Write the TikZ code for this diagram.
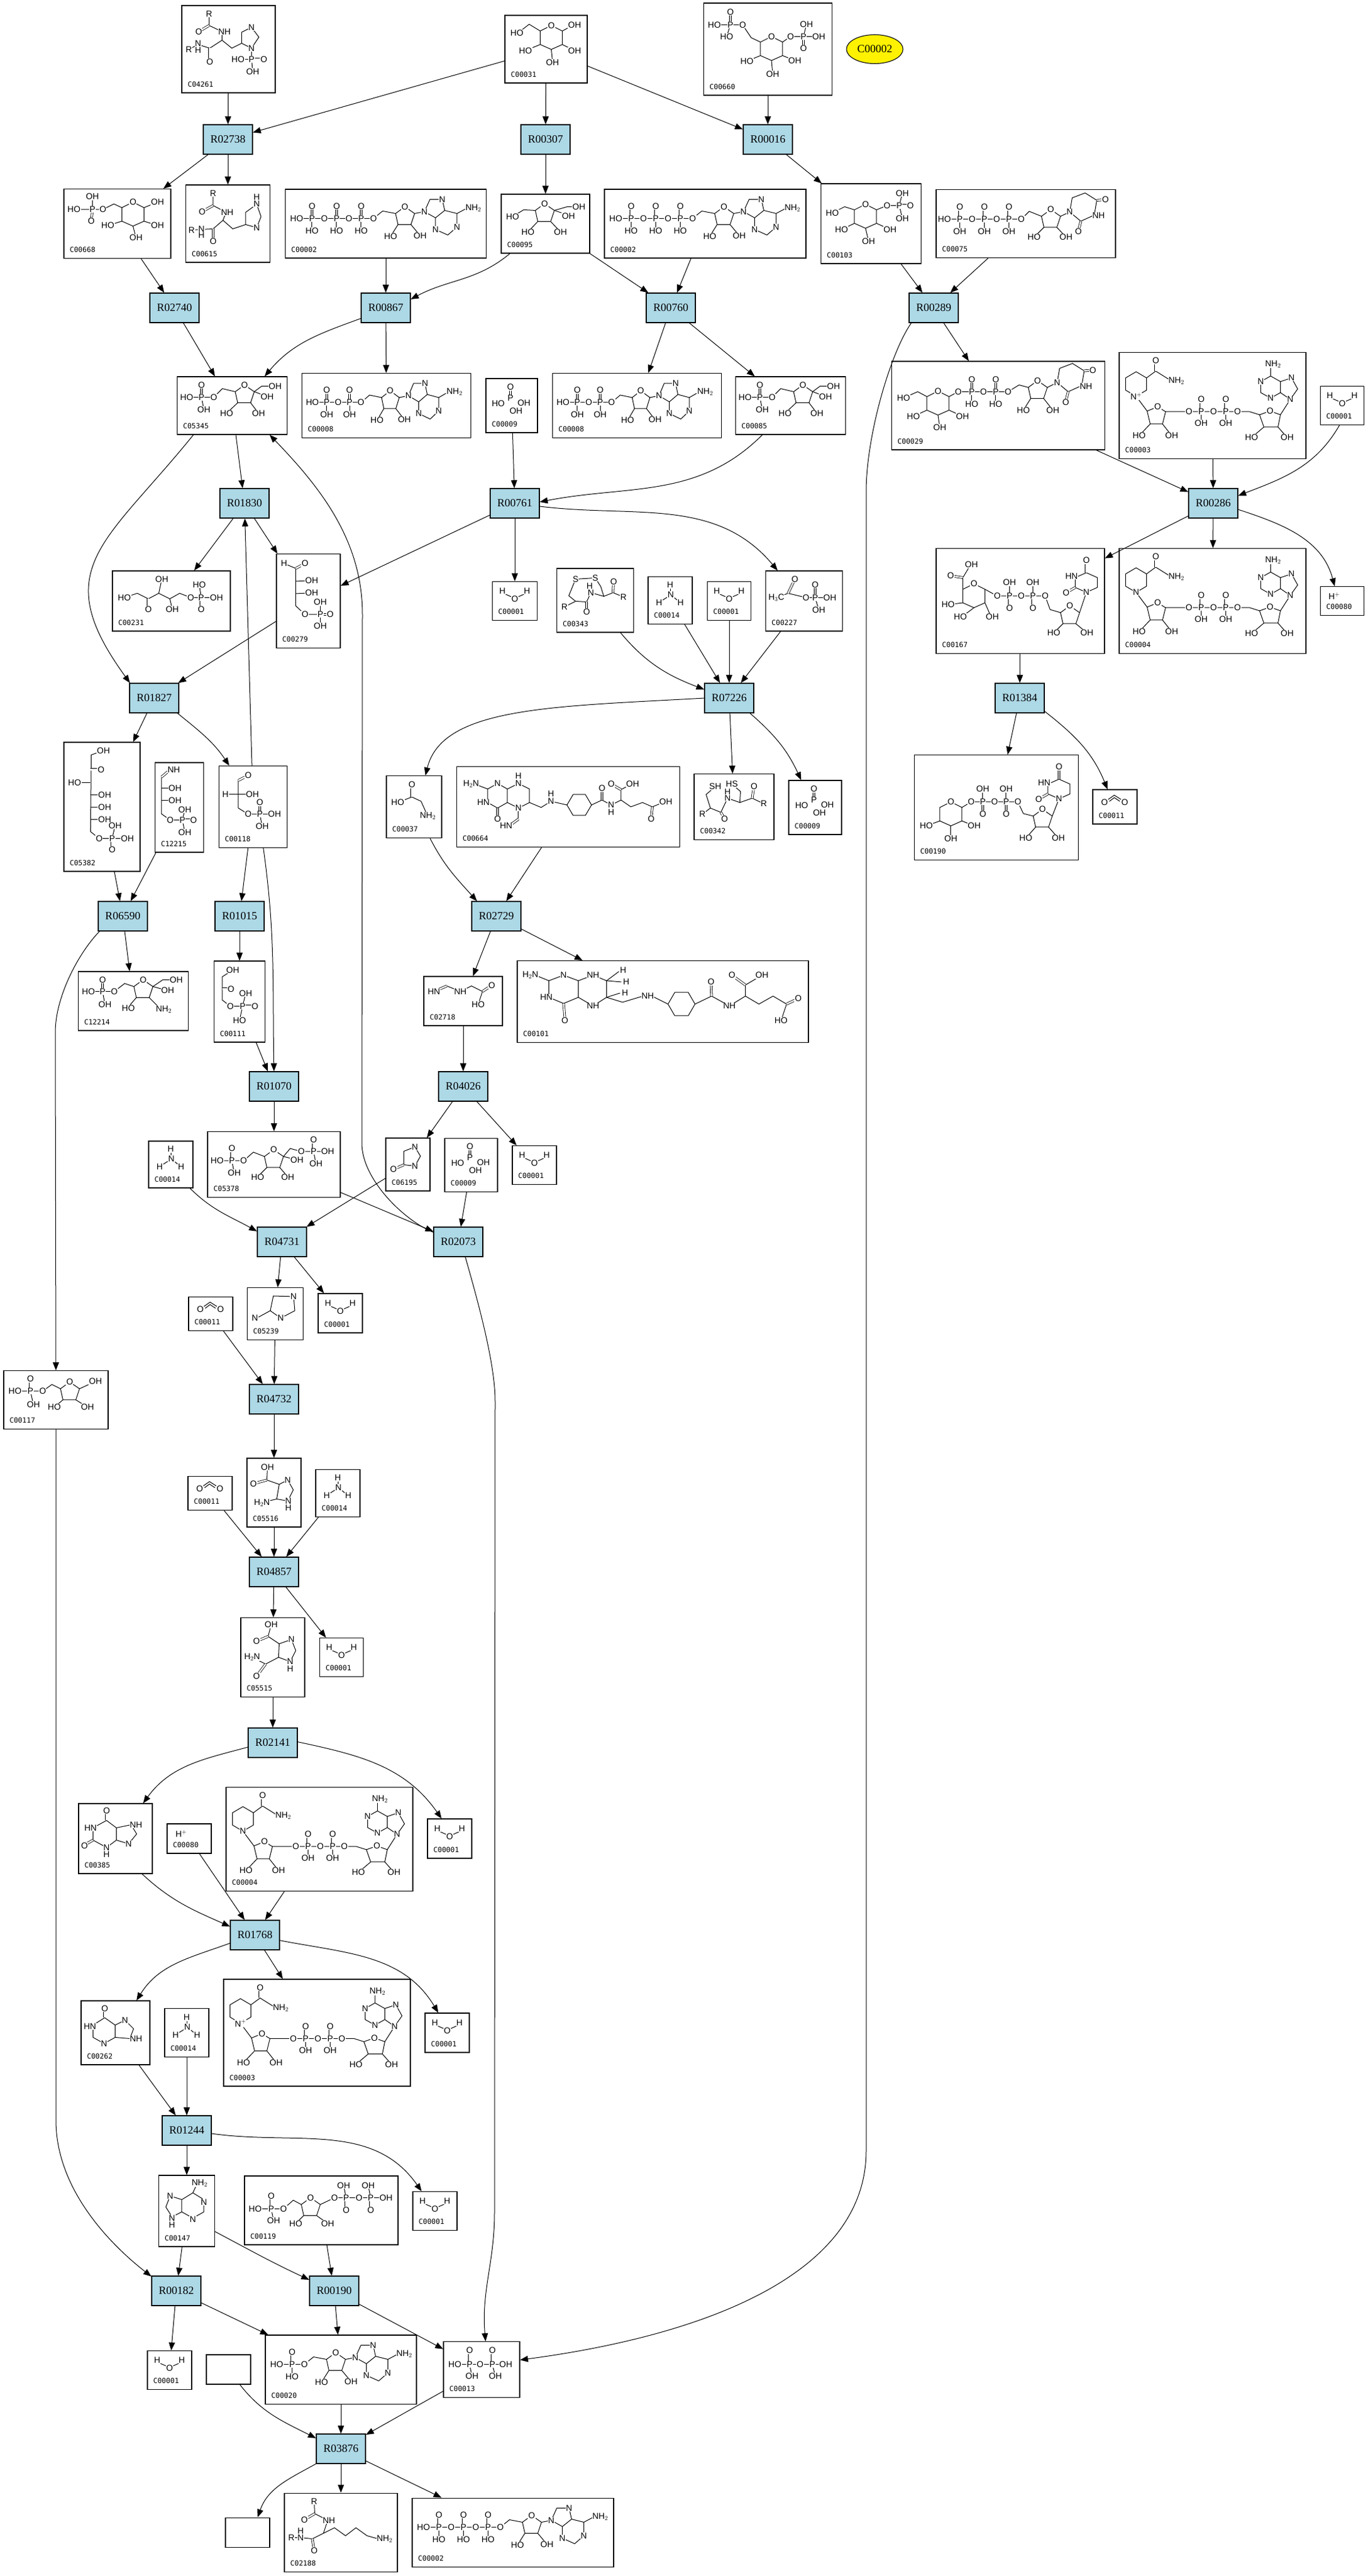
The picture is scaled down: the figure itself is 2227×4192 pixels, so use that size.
\documentclass[tikz,border=0pt]{standalone}
\usepackage{fontspec}
\setmainfont{Liberation Serif}
\newfontfamily\idfam{Liberation Sans}
\newfontfamily\idmono{DejaVu Sans Mono}
\usetikzlibrary{arrows.meta,shapes.geometric}
\definecolor{lblue}{HTML}{ADD8E6}
\newcommand\rxfont{\fontsize{18}{20}\selectfont}
\newcommand\cidfont{\idmono\fontsize{11.5}{13}\selectfont}
\newcommand\atomfont{\idfam\fontsize{14}{15}\selectfont}
\tikzset{
  rx/.style={draw=black,line width=1.2pt,fill=lblue,minimum width=80pt,minimum height=48pt,inner sep=0pt,font=\rxfont},
  cbox/.style={draw=black,line width=1.1pt,inner sep=0pt},
  idl/.style={anchor=south west,inner sep=0pt,font=\cidfont},
  atom/.style={inner sep=0.6pt,fill=white,font=\atomfont},
  bond/.style={line width=1pt},
  dbond/.style={line width=0.8pt,double=white,double distance=2.4pt},
  arr/.style={line width=1pt,-{Triangle[length=13pt,width=10pt]}}
}
\newcommand\cpd[6]{\node[cbox,minimum width=#4pt,minimum height=#5pt] (#1) at (#2,-#3) {};
  \node[idl] at ([shift={(10,10)}]#1.south west) {#6};}
\newcommand\rxn[3]{\node[rx] (#1) at (#2,-#3) {#1};}
\newcommand\bdon[1]{\draw[bond] #1;}
\newcommand\dbdon[1]{\draw[dbond] #1;}
\newcommand\atmon[3]{\node[atom] at (#1,#2) {#3};}
\newcommand\atwon[3]{\node[atom,anchor=west] at (#1,#2) {#3};}
\newcommand\gobA[1]{}
\newcommand\gobC[3]{}
\let\bd\bdon \let\dbd\dbdon \let\atm\atmon \let\atw\atwon
\newcommand\insc[3][]{\begin{scope}[shift={(#2.north west)},yscale=-1,#1]%
  \let\bd\bdon\let\dbd\dbdon\let\atm\gobC\let\atw\gobC #3%
  \let\bd\gobA\let\dbd\gobA\let\atm\atmon\let\atw\atwon #3%
  \end{scope}}
% building blocks (local coordinates, y downwards)
\newcommand\pyr[2]{\bd{(#1-18,#2-11)--(#1,#2-20)--(#1+18,#2-11)--(#1+18,#2+11)--(#1,#2+19)--(#1-18,#2+11)--cycle}\atm{#1}{#2-20}{O}}
\newcommand\fur[2]{\bd{(#1-15,#2-6)--(#1,#2-17)--(#1+16,#2-6)--(#1+10,#2+12)--(#1-11,#2+12)--cycle}\atm{#1}{#2-17}{O}}
\newcommand\pch[4]{%
  \bd{(#1,#2)--({#1+45+40*(#3-1)},#2)}%
  \foreach \i in {1,...,#3}{%
    \pgfmathsetmacro\px{#1+25+40*(\i-1)}%
    \dbd{(\px,#2)--(\px,#2-20)}\bd{(\px,#2)--(\px,#2+20)}%
    \atm{\px}{#2}{P}\atm{\px}{#2-20}{O}\atm{\px}{#2+20}{#4}\atm{\px+20}{#2}{O}}%
  \atm{#1}{#2}{HO}}
\newcommand\adeA[2]{%
  \bd{(#1,#2)--(#1+9,#2-20)--(#1+29,#2-20)--(#1+33,#2-2)--(#1+18,#2+10)--cycle}%
  \bd{(#1+18,#2+10)--(#1+18,#2+29)--(#1+38,#2+38)--(#1+53,#2+25)--(#1+53,#2+3)--(#1+33,#2-2)}%
  \bd{(#1+53,#2+3)--(#1+68,#2-5)}%
  \atm{#1}{#2}{N}\atm{#1+29}{#2-20}{N}\atm{#1+18}{#2+29}{N}\atm{#1+53}{#2+25}{N}%
  \atw{#1+66}{#2-6}{NH$_2$}}
\newcommand\adeB[2]{%
  \bd{(#1-32,#2-38)--(#1-16,#2-29)--(#1-16,#2-11)--(#1-32,#2-2)--(#1-48,#2-11)--(#1-48,#2-29)--cycle}%
  \bd{(#1-16,#2-29)--(#1+2,#2-35)--(#1+12,#2-17)--(#1,#2)--(#1-16,#2-11)}%
  \bd{(#1-32,#2-38)--(#1-32,#2-52)}%
  \atm{#1}{#2}{N}\atm{#1-32}{#2-2}{N}\atm{#1-48}{#2-29}{N}\atm{#1+2}{#2-35}{N}\atm{#1-28}{#2-57}{NH$_2$}}
\newcommand\uraA[2]{%
  \bd{(#1,#2)--(#1+4,#2-23)--(#1+25,#2-31)--(#1+44,#2-19)--(#1+40,#2+5)--(#1+18,#2+15)--cycle}%
  \dbd{(#1+44,#2-19)--(#1+57,#2-20)}\dbd{(#1+18,#2+15)--(#1+14,#2+31)}%
  \atm{#1}{#2}{N}\atm{#1+47}{#2+6}{NH}\atm{#1+58}{#2-20}{O}\atm{#1+14}{#2+32}{O}}
\newcommand\uraB[2]{%
  \bd{(#1,#2)--(#1+18,#2-8)--(#1+18,#2-24)--(#1,#2-32)--(#1-18,#2-24)--(#1-18,#2-8)--cycle}%
  \dbd{(#1,#2-32)--(#1,#2-50)}\dbd{(#1-18,#2-8)--(#1-32,#2)}%
  \atm{#1}{#2}{N}\atm{#1-24}{#2-26}{HN}\atm{#1}{#2-52}{O}\atm{#1-33}{#2+1}{O}}
\newcommand\ados[2]{%
  \bd{(#1,#2)--(#1+15,#2-12)--(#1+36,#2-8)}\fur{#1+51}{#2-2}%
  \bd{(#1+40,#2+10)--(#1+28,#2+29)}\bd{(#1+61,#2+10)--(#1+76,#2+28)}%
  \bd{(#1+67,#2-8)--(#1+83,#2-11)}\adeA{#1+83}{#2-11}%
  \atm{#1+28}{#2+29}{HO}\atm{#1+76}{#2+28}{OH}}
\newcommand\nadin[1]{%
  \bd{(28,32)--(45,42)--(45,62)--(28,72)--(11,62)--(11,42)--cycle}%
  \bd{(45,42)--(60,31)--(84,46)}\dbd{(60,31)--(60,14)}\bd{(28,72)--(46,96)}%
  \bd{(46,96)--(63,89)--(76,97)--(71,117)--(51,117)--cycle}%
  \bd{(51,117)--(33,136)}\bd{(71,117)--(86,136)}%
  \bd{(76,97)--(213,97)--(229,102)}%
  \dbd{(134,97)--(134,77)}\bd{(134,97)--(134,116)}\dbd{(174,97)--(174,77)}\bd{(174,97)--(174,116)}%
  \bd{(229,102)--(246,96)--(263,102)--(259,122)--(236,122)--cycle}%
  \bd{(236,122)--(216,139)}\bd{(259,122)--(274,139)}\bd{(263,102)--(279,77)}%
  \adeB{279}{77}%
  \atm{60}{14}{O}\atw{80}{47}{NH$_2$}\atm{28}{72}{#1}\atm{63}{89}{O}%
  \atm{33}{136}{HO}\atm{86}{136}{OH}\atm{114}{97}{O}\atm{134}{97}{P}\atm{134}{77}{O}\atm{134}{116}{OH}%
  \atm{154}{97}{O}\atm{174}{97}{P}\atm{174}{77}{O}\atm{174}{116}{OH}\atm{193}{97}{O}\atm{246}{96}{O}%
  \atm{216}{139}{HO}\atm{274}{139}{OH}}
\newcommand\fsixp{% fructose 6-phosphate
  \bd{(16,34)--(60,34)--(74,20)--(95,25)}\dbd{(40,34)--(40,14)}\bd{(40,34)--(44,54)}\fur{110}{31}%
  \bd{(99,43)--(81,60)}\bd{(120,43)--(133,60)}\bd{(126,25)--(145,32)}\bd{(126,25)--(138,16)--(160,16)}%
  \atm{40}{14}{O}\atm{40}{34}{P}\atm{16}{34}{HO}\atm{60}{34}{O}\atm{44}{54}{OH}%
  \atm{81}{60}{HO}\atm{133}{60}{OH}\atm{147}{33}{OH}\atm{160}{16}{OH}}
\newcommand\waterin[1]{%
  \draw[bond] ([shift={(-15,11)}]#1.center) -- ([shift={(-6,7)}]#1.center);
  \draw[bond] ([shift={(6,7)}]#1.center) -- ([shift={(15,11)}]#1.center);
  \node[atom] at ([shift={(-20,16)}]#1.center) {H};
  \node[atom] at ([shift={(0,3)}]#1.center) {O};
  \node[atom] at ([shift={(20,16)}]#1.center) {H};}
\newcommand\nhin[1]{%
  \draw[bond] ([shift={(0,19)}]#1.center) -- ([shift={(0,15)}]#1.center);
  \draw[bond] ([shift={(-5,5)}]#1.center) -- ([shift={(-13,0)}]#1.center);
  \draw[bond] ([shift={(6,5)}]#1.center) -- ([shift={(12,0)}]#1.center);
  \node[atom] at ([shift={(0,25)}]#1.center) {H};
  \node[atom] at ([shift={(1,9)}]#1.center) {N};
  \node[atom] at ([shift={(-18,-4)}]#1.center) {H};
  \node[atom] at ([shift={(17,-4)}]#1.center) {H};}
\newcommand\coin[1]{%
  \draw[bond] ([shift={(-11,12)}]#1.center) -- ([shift={(-1,19)}]#1.center) -- ([shift={(10,12)}]#1.center);
  \draw[bond] ([shift={(-9,9)}]#1.center) -- ([shift={(-1,15)}]#1.center) -- ([shift={(8,9)}]#1.center);
  \node[atom] at ([shift={(-17,7)}]#1.center) {O};
  \node[atom] at ([shift={(16,7)}]#1.center) {O};}
\newcommand\phin[1]{%
  \draw[dbond] ([shift={(-2,16)}]#1.center) -- ([shift={(-2,25)}]#1.center);
  \node[atom] at ([shift={(-2,30)}]#1.center) {O};
  \node[atom] at ([shift={(-2,12)}]#1.center) {P};
  \node[atom] at ([shift={(-22,3)}]#1.center) {HO};
  \node[atom] at ([shift={(20,4)}]#1.center) {OH};
  \node[atom] at ([shift={(7,-9)}]#1.center) {OH};}
\newcommand\hpin[1]{%
  \node[atom] at ([shift={(-13,8)}]#1.center) {H$^{+}$};}
\begin{document}
\begin{tikzpicture}[x=1pt,y=1pt]
\useasboundingbox (0,0) rectangle (2227,-4192);
\fill[white] (0,0) rectangle (2227,-4192);
% ---------- compounds ----------
\cpd{cA}{372}{80}{152}{142}{C04261}
\cpd{cB}{889}{80}{134}{110}{C00031}
\cpd{cC}{1250}{80}{209}{150}{C00660}
\node[ellipse,draw=black,line width=1.1pt,fill=yellow,minimum width=92pt,minimum height=47pt,inner sep=0pt,font=\rxfont] (Y) at (1424,-80) {C00002};
\cpd{cD}{191}{364}{174}{113}{C00668}
\cpd{cE}{371}{364}{137}{126}{C00615}
\cpd{cF}{628}{364}{327}{112}{C00002}
\cpd{cG}{888}{364}{144}{96}{C00095}
\cpd{cH}{1148}{364}{328}{112}{C00002}
\cpd{cI}{1418}{364}{163}{130}{C00103}
\cpd{cJ}{1670}{364}{292}{111}{C00075}
\cpd{cK}{378}{660}{179}{94}{C05345}
\cpd{cL}{629}{660}{275}{105}{C00008}
\cpd{cM}{833}{660}{84}{88}{C00009}
\cpd{cN}{1037}{660}{275}{105}{C00008}
\cpd{cO}{1287}{660}{179}{94}{C00085}
\cpd{cP}{1625}{660}{347}{144}{C00029}
\cpd{cQ}{1974}{660}{304}{173}{C00003}
\cpd{cR}{2185}{660}{71}{63}{C00001}
\cpd{cS}{279}{978}{192}{98}{C00231}
\cpd{cT}{502}{978}{104}{153}{C00279}
\cpd{cU}{838}{978}{73}{63}{C00001}
\cpd{cV}{969}{977}{125}{104}{C00343}
\cpd{cW}{1091}{977}{72}{77}{C00014}
\cpd{cX}{1187}{978}{71}{63}{C00001}
\cpd{cY}{1309}{978}{125}{98}{C00227}
\cpd{cZ}{1661}{978}{274}{171}{C00167}
\cpd{cAA}{1974}{978}{304}{171}{C00004}
\cpd{cAB}{2185}{978}{71}{47}{C00080}
\cpd{cAC}{166}{1313}{124}{210}{C05382}
\cpd{cAD}{292}{1314}{79}{146}{C12215}
\cpd{cAE}{412}{1313}{111}{133}{C00118}
\cpd{cAF}{674}{1313}{90}{101}{C00037}
\cpd{cAG}{925}{1313}{363}{131}{C00664}
\cpd{cAH}{1195}{1313}{130}{107}{C00342}
\cpd{cAI}{1327}{1314}{86}{88}{C00009}
\cpd{cAJ}{1622}{1314}{267}{171}{C00190}
\cpd{cAK}{1815}{1313}{72}{56}{C00011}
\cpd{cAL}{217}{1629}{179}{96}{C12214}
\cpd{cAM}{390}{1630}{83}{132}{C00111}
\cpd{cAN}{754}{1629}{128}{80}{C02718}
\cpd{cAO}{1079}{1630}{474}{133}{C00101}
\cpd{cAP}{278}{1895}{72}{76}{C00014}
\cpd{cAQ}{446}{1895}{216}{107}{C05378}
\cpd{cAR}{664}{1895}{72}{86}{C06195}
\cpd{cAS}{767}{1896}{86}{87}{C00009}
\cpd{cAT}{870}{1896}{72}{63}{C00001}
\cpd{cAU}{343}{2138}{72}{55}{C00011}
\cpd{cAV}{448}{2138}{91}{85}{C05239}
\cpd{cAW}{554}{2137}{72}{64}{C00001}
\cpd{cAX}{91}{2278}{170}{95}{C00117}
\cpd{cAY}{342}{2430}{72}{55}{C00011}
\cpd{cAZ}{446}{2429}{88}{112}{C05516}
\cpd{cBA}{550}{2430}{72}{77}{C00014}
\cpd{cBB}{444}{2697}{104}{129}{C05515}
\cpd{cBC}{556}{2697}{71}{63}{C00001}
\cpd{cBD}{188}{2992}{120}{114}{C00385}
\cpd{cBE}{308}{2992}{72}{48}{C00080}
\cpd{cBF}{520}{2993}{304}{169}{C00004}
\cpd{cBG}{732}{2992}{72}{64}{C00001}
\cpd{cBH}{188}{3308}{112}{104}{C00262}
\cpd{cBI}{304}{3308}{72}{79}{C00014}
\cpd{cBJ}{516}{3308}{304}{174}{C00003}
\cpd{cBK}{728}{3308}{72}{64}{C00001}
\cpd{cBL}{304}{3598}{91}{116}{C00147}
\cpd{cBM}{523}{3597}{250}{112}{C00119}
\cpd{cBN}{708}{3598}{72}{63}{C00001}
\cpd{cBO}{276}{3857}{72}{63}{C00001}
\node[cbox,minimum width=72pt,minimum height=48pt] (eA) at (372,-3856) {};
\cpd{cBQ}{555}{3856}{246}{112}{C00020}
\cpd{cBR}{784}{3856}{124}{91}{C00013}
\node[cbox,minimum width=72pt,minimum height=48pt] (eB) at (403,-4121) {};
\cpd{cBT}{555}{4121}{184}{128}{C02188}
\cpd{cBU}{835}{4121}{328}{112}{C00002}
% ---------- simple structures ----------
\waterin{cR}\waterin{cU}\waterin{cX}\waterin{cAT}\waterin{cAW}\waterin{cBC}
\waterin{cBG}\waterin{cBK}\waterin{cBN}\waterin{cBO}
\nhin{cW}\nhin{cAP}\nhin{cBA}\nhin{cBI}
\coin{cAK}\coin{cAU}\coin{cAY}
\phin{cM}\phin{cAI}\phin{cAS}
\hpin{cAB}\hpin{cBE}
% ---------- nucleotides ----------
\insc{cF}{\pch{19}{48}{3}{HO}\ados{144}{48}}
\insc{cH}{\pch{19}{48}{3}{HO}\ados{144}{48}}
\insc{cBU}{\pch{19}{48}{3}{HO}\ados{144}{48}}
\insc[xscale=0.93]{cL}{\pch{19}{48}{2}{OH}\ados{104}{48}}
\insc[xscale=0.93]{cN}{\pch{19}{48}{2}{OH}\ados{104}{48}}
\insc{cBQ}{\pch{19}{48}{1}{HO}\ados{64}{48}}
\insc{cQ}{\nadin{N$^{+}$}}
\insc{cBJ}{\nadin{N$^{+}$}}
\insc{cAA}{\nadin{N}}
\insc{cBF}{\nadin{N}}
\insc{cJ}{\pch{14}{49}{3}{OH}\bd{(139,49)--(152,36)--(172,44)}\fur{187}{50}%
  \bd{(176,62)--(160,78)}\bd{(197,62)--(212,78)}\bd{(203,44)--(218,37)}\uraA{218}{37}%
  \atm{160}{78}{HO}\atm{212}{78}{OH}}
\insc{cP}{\pyr{76}{69}\bd{(58,58)--(43,50)--(20,60)}\bd{(58,80)--(36,90)}\bd{(76,88)--(79,108)}\bd{(94,80)--(116,90)}%
  \bd{(94,58)--(109,50)--(190,50)--(208,39)--(223,43)}%
  \dbd{(131,50)--(131,30)}\bd{(131,50)--(131,70)}\dbd{(170,50)--(170,30)}\bd{(170,50)--(170,70)}%
  \fur{238}{49}\bd{(227,61)--(215,80)}\bd{(248,61)--(263,80)}\bd{(254,43)--(270,35)}\uraA{270}{35}%
  \atm{20}{60}{HO}\atm{36}{90}{HO}\atm{79}{108}{OH}\atm{116}{90}{OH}\atm{109}{50}{O}\atm{131}{50}{P}\atm{131}{30}{O}%
  \atm{131}{70}{HO}\atm{150}{50}{O}\atm{170}{50}{P}\atm{170}{30}{O}\atm{170}{70}{HO}\atm{190}{50}{O}%
  \atm{215}{80}{HO}\atm{263}{80}{OH}}
\insc{cZ}{\pyr{62}{78}\bd{(44,67)--(44,48)--(56,28)}\dbd{(44,48)--(24,45)}\bd{(44,89)--(20,92)}\bd{(62,97)--(42,112)}\bd{(80,89)--(90,112)}%
  \bd{(80,67)--(100,78)--(178,78)--(186,100)--(203,105)}%
  \bd{(120,78)--(120,56)}\dbd{(120,78)--(120,98)}\bd{(158,78)--(158,56)}\dbd{(158,78)--(158,98)}%
  \fur{218}{111}\bd{(207,123)--(192,138)}\bd{(228,123)--(246,138)}\bd{(234,105)--(245,72)}\uraB{245}{72}%
  \atm{24}{45}{O}\atm{58}{27}{OH}\atm{20}{92}{HO}\atm{40}{112}{HO}\atm{92}{112}{OH}\atm{100}{78}{O}\atm{120}{78}{P}%
  \atm{120}{56}{OH}\atm{120}{98}{O}\atm{139}{78}{O}\atm{158}{78}{P}\atm{158}{56}{OH}\atm{158}{98}{O}\atm{178}{78}{O}%
  \atm{192}{138}{HO}\atm{246}{138}{OH}}
\insc{cAJ}{\pyr{60}{97}\bd{(42,108)--(20,116)}\bd{(60,116)--(60,137)}\bd{(78,108)--(98,116)}%
  \bd{(78,86)--(93,77)--(169,77)--(178,96)--(194,100)}%
  \bd{(112,77)--(112,56)}\dbd{(112,77)--(112,97)}\bd{(150,77)--(150,56)}\dbd{(150,77)--(150,97)}%
  \fur{209}{106}\bd{(198,118)--(182,136)}\bd{(219,118)--(235,136)}\bd{(225,100)--(236,72)}\uraB{236}{72}%
  \atm{20}{116}{HO}\atm{60}{137}{OH}\atm{98}{116}{OH}\atm{93}{77}{O}\atm{112}{77}{P}\atm{112}{56}{OH}\atm{112}{97}{O}%
  \atm{131}{77}{O}\atm{150}{77}{P}\atm{150}{56}{OH}\atm{150}{97}{O}\atm{169}{77}{O}\atm{182}{136}{HO}\atm{235}{136}{OH}}
% ---------- sugars ----------
\insc{cB}{\pyr{76}{37}\bd{(58,26)--(40,15)--(22,29)}\bd{(94,26)--(112,16)}\bd{(58,48)--(36,57)}\bd{(94,48)--(112,57)}\bd{(76,56)--(78,75)}%
  \atm{20}{29}{HO}\atm{114}{16}{OH}\atm{34}{58}{HO}\atm{114}{58}{OH}\atm{78}{77}{OH}}
\insc{cC}{\bd{(18,36)--(64,36)--(78,57)--(93,64)}\dbd{(44,36)--(44,15)}\bd{(44,36)--(38,55)}\pyr{111}{75}%
  \bd{(129,64)--(142,55)--(163,55)--(188,55)}\bd{(163,55)--(168,35)}\dbd{(163,55)--(163,74)}%
  \bd{(93,86)--(71,95)}\bd{(129,86)--(149,94)}\bd{(111,94)--(113,116)}%
  \atm{44}{15}{O}\atm{44}{36}{P}\atm{18}{36}{HO}\atm{64}{36}{O}\atm{38}{55}{HO}\atm{142}{55}{O}\atm{163}{55}{P}%
  \atm{168}{35}{OH}\atm{188}{55}{OH}\atm{163}{74}{O}\atm{71}{95}{HO}\atm{149}{94}{OH}\atm{113}{116}{OH}}
\insc{cD}{\bd{(17,34)--(64,34)--(82,25)--(95,31)}\bd{(47,34)--(47,13)}\dbd{(47,34)--(45,53)}\pyr{113}{42}%
  \bd{(131,31)--(153,22)}\bd{(131,53)--(153,60)}\bd{(113,61)--(118,80)}\bd{(95,53)--(72,60)}%
  \atm{47}{13}{OH}\atm{17}{34}{HO}\atm{47}{34}{P}\atm{45}{53}{O}\atm{64}{34}{O}\atm{153}{22}{OH}\atm{153}{60}{OH}%
  \atm{118}{80}{OH}\atm{72}{60}{HO}}
\insc{cG}{\fur{71}{33}\bd{(56,27)--(37,26)--(19,37)}\bd{(60,45)--(44,62)}\bd{(81,45)--(97,62)}\bd{(87,27)--(108,34)}\bd{(87,27)--(108,21)--(125,21)}%
  \atm{19}{37}{HO}\atm{44}{62}{HO}\atm{97}{62}{OH}\atm{110}{36}{OH}\atm{127}{21}{OH}}
\insc{cI}{\pyr{73}{54}\bd{(55,43)--(39,38)--(19,48)}\bd{(55,65)--(34,75)}\bd{(91,65)--(113,75)}\bd{(73,73)--(78,94)}%
  \bd{(91,43)--(108,36)--(128,36)}\dbd{(128,36)--(146,36)}\bd{(128,36)--(133,16)}\bd{(128,36)--(133,57)}%
  \atm{19}{48}{HO}\atm{34}{75}{HO}\atm{113}{75}{OH}\atm{78}{94}{OH}\atm{108}{36}{O}\atm{128}{36}{P}\atm{133}{16}{OH}%
  \atm{146}{36}{O}\atm{133}{57}{OH}}
\insc{cK}{\fsixp}
\insc{cO}{\fsixp}
\insc{cAL}{\bd{(17,33)--(59,33)--(76,20)--(91,25)}\dbd{(40,33)--(40,14)}\bd{(40,33)--(44,54)}\fur{106}{31}%
  \bd{(95,43)--(82,58)}\bd{(116,43)--(133,60)}\bd{(122,25)--(144,31)}\bd{(122,25)--(138,14)--(160,14)}%
  \atm{40}{14}{O}\atm{40}{33}{P}\atm{17}{33}{HO}\atm{59}{33}{O}\atm{44}{54}{OH}\atm{82}{60}{HO}%
  \atw{126}{62}{NH$_2$}\atm{146}{31}{OH}\atm{160}{14}{OH}}
\insc{cAQ}{\bd{(16,48)--(59,48)--(75,34)--(93,41)}\dbd{(40,48)--(40,28)}\bd{(40,48)--(44,68)}\fur{108}{47}%
  \bd{(97,59)--(82,74)}\bd{(118,59)--(131,74)}\bd{(124,41)--(144,46)}\bd{(124,41)--(135,28)--(153,33)--(196,33)}%
  \dbd{(173,33)--(173,14)}\bd{(173,33)--(177,53)}%
  \atm{40}{28}{O}\atm{40}{48}{P}\atm{16}{48}{HO}\atm{59}{48}{O}\atm{44}{68}{OH}\atm{82}{75}{HO}\atm{131}{75}{OH}%
  \atm{146}{47}{OH}\atm{153}{33}{O}\atm{173}{33}{P}\atm{173}{14}{O}\atm{196}{33}{OH}\atm{177}{53}{OH}}
\insc{cAX}{\bd{(19,34)--(64,34)--(79,23)--(93,30)}\dbd{(44,34)--(44,14)}\bd{(44,34)--(49,56)}\fur{108}{36}%
  \bd{(124,30)--(150,18)}\bd{(97,48)--(83,60)}\bd{(118,48)--(137,60)}%
  \atm{44}{14}{O}\atm{44}{34}{P}\atm{19}{34}{HO}\atm{64}{34}{O}\atm{49}{56}{OH}\atm{150}{18}{OH}\atm{83}{60}{HO}\atm{137}{60}{OH}}
\insc{cBM}{\bd{(18,54)--(64,54)--(80,40)--(93,47)}\dbd{(44,54)--(44,33)}\bd{(44,54)--(48,73)}\fur{108}{53}%
  \bd{(97,65)--(84,78)}\bd{(118,65)--(136,78)}\bd{(124,47)--(147,36)--(231,36)}%
  \bd{(166,36)--(162,16)}\dbd{(166,36)--(166,56)}\bd{(206,36)--(202,16)}\dbd{(206,36)--(206,56)}%
  \atm{44}{33}{O}\atm{44}{54}{P}\atm{18}{54}{HO}\atm{64}{54}{O}\atm{48}{73}{OH}\atm{84}{78}{HO}\atm{136}{78}{OH}%
  \atm{147}{36}{O}\atm{166}{36}{P}\atm{162}{16}{OH}\atm{166}{56}{O}\atm{187}{36}{O}\atm{206}{36}{P}\atm{202}{16}{OH}%
  \atm{231}{36}{OH}\atm{206}{56}{O}}
% ---------- chains ----------
\insc{cS}{\bd{(20,44)--(41,37)--(59,46)--(76,37)--(94,46)--(110,37)--(128,44)--(170,44)}\dbd{(59,46)--(59,63)}%
  \bd{(76,37)--(81,14)}\bd{(94,46)--(98,63)}\bd{(145,44)--(142,23)}\dbd{(145,44)--(145,63)}%
  \atm{20}{44}{HO}\atm{59}{63}{O}\atm{81}{14}{OH}\atm{98}{63}{OH}\atm{128}{44}{O}\atm{145}{44}{P}\atm{142}{23}{HO}%
  \atm{170}{44}{OH}\atm{145}{63}{O}}
\insc{cT}{\bd{(13,16)--(32,24)--(32,85)--(47,99)--(72,99)}\dbd{(32,24)--(47,16)}\bd{(32,45)--(56,44)}\bd{(32,65)--(56,64)}%
  \bd{(72,99)--(72,79)}\dbd{(72,99)--(88,99)}\bd{(72,99)--(72,118)}%
  \atm{13}{16}{H}\atm{47}{16}{O}\atm{58}{44}{OH}\atm{58}{64}{OH}\atm{47}{99}{O}\atm{72}{99}{P}\atm{72}{79}{OH}%
  \atm{88}{99}{O}\atm{72}{118}{OH}}
\insc{cAC}{\bd{(65,14)--(45,21)--(44,146)--(58,157)--(104,157)}\dbd{(44,45)--(59,45)}\bd{(44,66)--(18,66)}%
  \bd{(44,86)--(67,86)}\bd{(44,106)--(67,106)}\bd{(44,126)--(67,126)}\bd{(79,157)--(84,136)}\dbd{(79,157)--(79,175)}%
  \atm{65}{14}{OH}\atm{61}{45}{O}\atm{18}{66}{HO}\atm{67}{86}{OH}\atm{67}{106}{OH}\atm{67}{126}{OH}\atm{58}{157}{O}%
  \atm{79}{157}{P}\atm{84}{136}{OH}\atm{104}{157}{OH}\atm{79}{175}{O}}
\insc{cAD}{\bd{(11,24)--(11,84)--(25,94)--(45,94)}\dbd{(11,24)--(24,13)}\bd{(11,42)--(33,42)}\bd{(11,62)--(33,62)}%
  \bd{(45,94)--(49,77)}\dbd{(45,94)--(63,94)}\bd{(45,94)--(49,114)}%
  \atm{31}{12}{NH}\atm{33}{42}{OH}\atm{33}{62}{OH}\atm{25}{94}{O}\atm{45}{94}{P}\atm{49}{77}{OH}\atm{63}{94}{O}\atm{49}{114}{OH}}
\insc{cAE}{\bd{(32,24)--(32,69)--(48,79)--(91,79)}\dbd{(32,24)--(48,16)}\bd{(11,47)--(55,47)}\dbd{(67,79)--(67,60)}\bd{(67,79)--(71,99)}%
  \atm{48}{16}{O}\atm{11}{47}{H}\atm{55}{47}{OH}\atm{48}{79}{O}\atm{67}{79}{P}\atm{67}{60}{O}\atm{91}{79}{OH}\atm{71}{99}{OH}}
\insc{cAM}{\bd{(31,15)--(14,26)--(14,64)--(27,74)--(47,74)}\dbd{(14,46)--(27,46)}\bd{(47,74)--(52,53)}\dbd{(47,74)--(67,74)}\bd{(47,74)--(42,97)}%
  \atm{31}{15}{OH}\atm{28}{46}{O}\atm{27}{74}{O}\atm{47}{74}{P}\atm{52}{53}{OH}\atm{67}{74}{O}\atm{42}{97}{HO}}
\insc{cY}{\bd{(18,44)--(37,37)--(66,44)--(81,44)}\dbd{(37,37)--(48,14)}\dbd{(81,44)--(81,23)}\bd{(81,44)--(105,44)}\bd{(81,44)--(87,64)}%
  \atm{18}{44}{H$_3$C}\atm{48}{14}{O}\atm{66}{44}{O}\atm{81}{44}{P}\atm{81}{23}{O}\atm{105}{44}{OH}\atm{87}{64}{OH}}
\insc{cAF}{\bd{(19,44)--(42,35)--(57,42)--(66,62)}\dbd{(42,35)--(42,15)}\atm{42}{15}{O}\atm{19}{44}{HO}\atm{68}{66}{NH$_2$}}
\insc{cAN}{\dbd{(17,25)--(38,16)}\bd{(38,16)--(60,25)--(78,16)--(96,25)}\dbd{(96,25)--(111,15)}\bd{(96,25)--(89,46)}%
  \atm{17}{25}{HN}\atm{60}{25}{NH}\atm{111}{15}{O}\atm{89}{46}{HO}}
\insc{cBR}{\bd{(19,38)--(102,38)}\dbd{(43,38)--(43,15)}\bd{(43,38)--(47,57)}\dbd{(80,38)--(80,15)}\bd{(80,38)--(85,57)}%
  \atm{19}{38}{HO}\atm{43}{38}{P}\atm{43}{15}{O}\atm{47}{57}{OH}\atm{60}{38}{O}\atm{80}{38}{P}\atm{80}{15}{O}\atm{102}{38}{OH}\atm{85}{57}{OH}}
% ---------- heterocycles / peptides ----------
\insc{cA}{\bd{(45,14)--(45,33)--(66,43)--(66,57)--(46,70)--(27,64)--(12,72)}\dbd{(45,33)--(28,43)}\dbd{(46,70)--(46,92)}%
  \bd{(66,57)--(82,70)--(98,62)}\bd{(98,62)--(98,44)--(114,36)--(126,52)--(114,70)--cycle}%
  \bd{(114,70)--(114,88)--(92,88)}\dbd{(114,88)--(134,88)}\bd{(114,88)--(116,108)}%
  \atm{45}{14}{R}\atm{28}{43}{O}\atm{70}{43}{NH}\atm{46}{92}{O}\atm{27}{62}{N}\atm{27}{73}{H}\atm{12}{72}{R}%
  \atm{114}{36}{N}\atm{114}{70}{N}\atm{114}{88}{P}\atm{92}{88}{HO}\atm{134}{88}{O}\atm{116}{108}{OH}}
\insc{cE}{\bd{(45,14)--(45,34)--(66,45)--(61,58)--(45,72)--(25,73)--(10,74)}\dbd{(45,34)--(27,44)}\dbd{(45,72)--(45,92)}%
  \bd{(61,58)--(77,72)--(98,65)}\bd{(98,65)--(98,45)--(116,32)--(123,52)--(116,70)--cycle}%
  \atm{45}{14}{R}\atm{27}{44}{O}\atm{68}{45}{NH}\atm{45}{92}{O}\atm{26}{72}{N}\atm{26}{82}{H}\atm{10}{74}{R}%
  \atm{116}{31}{N}\atm{116}{20}{H}\atm{116}{70}{N}}
\insc{cV}{\bd{(20,45)--(31,18)--(63,16)--(72,30)--(77,46)--(56,40)--(49,55)--(31,54)--cycle}\dbd{(49,55)--(49,71)}%
  \bd{(31,54)--(13,63)}\bd{(77,46)--(92,40)--(109,47)}\dbd{(92,40)--(93,22)}%
  \atm{31}{18}{S}\atm{63}{16}{S}\atm{56}{40}{N}\atm{54}{29}{H}\atm{49}{71}{O}\atm{13}{63}{R}\atm{93}{22}{O}\atm{109}{47}{R}}
\insc{cAH}{\bd{(35,21)--(20,34)--(27,56)--(14,66)}\bd{(27,56)--(44,63)--(55,40)--(75,47)--(76,29)--(62,17)}\dbd{(44,63)--(50,73)}%
  \bd{(75,47)--(95,40)--(114,49)}\dbd{(95,40)--(98,21)}%
  \atm{35}{21}{SH}\atm{62}{17}{HS}\atm{14}{66}{R}\atm{50}{74}{O}\atm{55}{40}{N}\atm{55}{30}{H}\atm{98}{21}{O}\atm{114}{49}{R}}
\insc{cAG}{\bd{(51,37)--(67,28)--(83,37)--(83,59)--(67,68)--(51,59)--cycle}\bd{(83,37)--(101,28)--(119,37)--(119,59)--(101,68)--(83,59)}%
  \bd{(51,37)--(30,29)}\dbd{(67,68)--(67,86)}\bd{(101,68)--(101,86)}\dbd{(101,86)--(86,97)}%
  \bd{(119,59)--(138,67)--(154,57)--(180,63)}\bd{(220,63)--(210,46)--(190,46)--(180,63)--(190,80)--(210,80)--cycle}%
  \bd{(220,63)--(237,55)--(252,63)--(268,55)--(268,38)--(285,29)}\dbd{(237,55)--(237,36)}\dbd{(268,38)--(252,29)}%
  \bd{(268,55)--(284,66)--(303,59)--(319,66)--(339,58)}\dbd{(319,66)--(317,86)}%
  \atm{24}{29}{H$_2$N}\atm{67}{28}{N}\atm{44}{59}{HN}\atm{67}{86}{O}\atm{101}{28}{N}\atm{101}{16}{H}\atm{101}{68}{N}%
  \atm{81}{97}{HN}\atm{154}{57}{N}\atm{154}{45}{H}\atm{237}{36}{O}\atm{252}{63}{N}\atm{252}{75}{H}\atm{252}{29}{O}%
  \atm{287}{29}{OH}\atm{341}{58}{OH}\atm{317}{86}{O}}
\insc{cAO}{\bd{(52,33)--(76,24)--(100,33)--(100,60)--(76,70)--(52,60)--cycle}\bd{(52,33)--(30,24)}\dbd{(76,70)--(78,92)}%
  \bd{(100,33)--(124,24)--(146,33)--(146,60)--(124,74)--(100,60)}\bd{(146,33)--(166,18)}\bd{(146,33)--(170,35)}%
  \bd{(146,60)--(168,53)}\bd{(146,60)--(172,68)--(205,58)}\bd{(220,58)--(246,71)}%
  \bd{(290,71)--(279,52)--(257,52)--(246,71)--(257,90)--(279,90)--cycle}%
  \bd{(290,71)--(317,58)--(346,74)--(372,58)--(372,40)--(399,24)}\dbd{(317,58)--(316,35)}\dbd{(372,40)--(350,24)}%
  \bd{(372,58)--(394,71)--(417,58)--(439,71)--(430,98)}\dbd{(439,71)--(458,62)}%
  \atm{22}{24}{H$_2$N}\atm{76}{24}{N}\atm{48}{60}{HN}\atm{78}{98}{O}\atm{124}{24}{NH}\atm{124}{74}{NH}\atm{173}{16}{H}%
  \atm{178}{35}{H}\atm{176}{53}{H}\atm{213}{58}{NH}\atm{316}{35}{O}\atm{346}{74}{NH}\atm{350}{24}{O}\atm{399}{24}{OH}%
  \atm{458}{62}{O}\atm{430}{98}{HO}}
\insc{cAR}{\bd{(30,22)--(48,15)--(57,30)--(48,46)--(30,44)--cycle}\dbd{(30,44)--(14,51)}\atm{48}{15}{N}\atm{48}{46}{N}\atm{13}{51}{O}}
\insc{cAV}{\bd{(43,14)--(76,15)--(78,38)--(55,50)--(38,38)--cycle}\bd{(38,38)--(16,50)}\atm{76}{15}{N}\atm{55}{50}{N}\atm{13}{50}{N}}
\insc{cAZ}{\bd{(53,43)--(67,36)--(76,52)--(67,70)--(49,67)--cycle}\bd{(53,43)--(33,36)--(34,15)}\dbd{(33,36)--(11,42)}\bd{(49,67)--(27,72)}%
  \atm{34}{15}{OH}\atm{11}{42}{O}\atm{67}{36}{N}\atm{68}{70}{N}\atm{68}{81}{H}\atm{25}{73}{H$_2$N}}
\insc{cBB}{\bd{(63,43)--(83,36)--(90,54)--(81,72)--(62,65)--cycle}\bd{(63,43)--(45,31)--(50,12)}\dbd{(45,31)--(26,39)}%
  \bd{(62,65)--(41,76)--(19,65)}\dbd{(41,76)--(26,96)}%
  \atm{50}{12}{OH}\atm{26}{39}{O}\atm{83}{36}{N}\atm{81}{72}{N}\atm{81}{84}{H}\atm{19}{65}{H$_2$N}\atm{26}{96}{O}}
\insc{cBD}{\bd{(46,28)--(24,40)--(24,60)--(46,72)--(62,60)--(62,40)--cycle}\bd{(62,40)--(86,35)--(95,50)--(82,66)--(62,60)}%
  \dbd{(46,28)--(46,12)}\dbd{(24,60)--(10,68)}%
  \atm{46}{12}{O}\atm{20}{40}{HN}\atm{10}{69}{O}\atm{46}{72}{N}\atm{46}{83}{H}\atm{82}{66}{N}\atm{94}{35}{NH}}
\insc{cBH}{\bd{(39,28)--(20,40)--(20,60)--(38,70)--(56,60)--(56,40)--cycle}\bd{(56,40)--(72,32)--(86,46)--(80,62)--(56,60)}%
  \dbd{(39,28)--(39,13)}%
  \atm{39}{13}{O}\atm{15}{42}{HN}\atm{38}{70}{N}\atm{72}{32}{N}\atm{90}{62}{NH}}
\insc{cBL}{\bd{(56,29)--(74,40)--(74,60)--(56,70)--(38,60)--(38,40)--cycle}\bd{(38,40)--(19,34)--(12,52)--(22,68)--(38,60)}\bd{(56,29)--(62,16)}%
  \atm{67}{13}{NH$_2$}\atm{74}{44}{N}\atm{56}{72}{N}\atm{19}{34}{N}\atm{22}{70}{N}\atm{22}{81}{H}}
\insc{cBT}{\bd{(49,14)--(50,34)--(71,45)--(64,66)--(46,75)--(26,73)--(12,73)}\dbd{(50,34)--(33,44)}\dbd{(46,75)--(49,94)}%
  \bd{(64,66)--(82,57)--(100,70)--(117,57)--(135,70)--(153,75)}%
  \atm{49}{14}{R}\atm{33}{44}{O}\atm{73}{45}{NH}\atm{27}{73}{N}\atm{27}{62}{H}\atm{12}{73}{R}\atm{49}{94}{O}%
  \atw{150}{75}{NH$_2$}}
% ---------- reactions ----------
\rxn{R02738}{371}{227}
\rxn{R00307}{888}{227}
\rxn{R00016}{1250}{227}
\rxn{R02740}{284}{501}
\rxn{R00867}{628}{501}
\rxn{R00760}{1092}{501}
\rxn{R00289}{1520}{501}
\rxn{R01830}{398}{819}
\rxn{R00761}{838}{819}
\rxn{R00286}{1975}{819}
\rxn{R01827}{251}{1136}
\rxn{R07226}{1187}{1136}
\rxn{R01384}{1660}{1136}
\rxn{R06590}{200}{1491}
\rxn{R01015}{390}{1491}
\rxn{R02729}{808}{1491}
\rxn{R01070}{446}{1768}
\rxn{R04026}{754}{1768}
\rxn{R04731}{459}{2021}
\rxn{R02073}{746}{2021}
\rxn{R04732}{446}{2277}
\rxn{R04857}{446}{2558}
\rxn{R02141}{444}{2836}
\rxn{R01768}{415}{3149}
\rxn{R01244}{304}{3467}
\rxn{R00182}{287}{3728}
\rxn{R00190}{544}{3728}
\rxn{R03876}{555}{3985}
% ---------- edges ----------
\draw[arr] (cA) -- (R02738);
\draw[arr] (cB) -- (R02738);
\draw[arr] (cB) -- (R00307);
\draw[arr] (cB) -- (R00016);
\draw[arr] (cC) -- (R00016);
\draw[arr] (R02738) -- (cD);
\draw[arr] (R02738) -- (cE);
\draw[arr] (R00307) -- (cG);
\draw[arr] (cD) -- (R02740);
\draw[arr] (cF) -- (R00867);
\draw[arr] (cG.220) to[out=220,in=28] (R00867.19);
\draw[arr] (cG) -- (R00760);
\draw[arr] (cH) -- (R00760);
\draw[arr] (R00016) -- (cI);
\draw[arr] (cI) -- (R00289);
\draw[arr] (cJ) -- (R00289);
\draw[arr] (R02740) -- (cK);
\draw[arr] (R00867.203) to[out=200,in=50] (cK.42);
\draw[arr] (R00867) -- (cL);
\draw[arr] (R00760) -- (cN);
\draw[arr] (R00760) -- (cO);
\draw[arr] (R00289) -- (cP);
\draw[arr] (R00289.214) .. controls +(235:60) and +(90:90) .. (1410,-800) -- (1410,-3500) .. controls (1410,-3700) and (1150,-3800) .. (cBR.14);
\draw[arr] (cP) -- (R00286);
\draw[arr] (cQ) -- (R00286);
\draw[arr] (cR.262) to[out=240,in=21] (R00286.17);
\draw[arr] (R00286) -- (cZ);
\draw[arr] (R00286) -- (cAA);
\draw[arr] (R00286.-14) to[out=-18,in=105] (cAB.117);
\draw[arr] (cZ) -- (R01384);
\draw[arr] (R01384) -- (cAJ);
\draw[arr] (R01384.-28) to[out=-38,in=112] (cAK.113);
\draw[arr] (cM) -- (R00761);
\draw[arr] (cO.226) to[out=225,in=11] (R00761.3);
\draw[arr] (R00761) -- (cT);
\draw[arr] (R00761) -- (cU);
\draw[arr] (R00761.-7) to[out=-7,in=130] (cY.131);
\draw[arr] (cK) -- (R01830);
\draw[arr] (cK.217) .. controls +(231:230) and +(126:230) .. (R01827.148);
\draw[arr] (R02073.159) .. controls +(158:50) and +(-90:60) .. (589,-1860) -- (590,-1000) .. controls +(90:120) and +(-46:120) .. (cK.-38);
\draw[arr] (R01830) -- (cS);
\draw[arr] (R01830) -- (cT);
\draw[arr] (cT) -- (R01827);
\draw[arr] (cAE) -- (R01830);
\draw[arr] (R01827) -- (cAC);
\draw[arr] (R01827.-33) to[out=-39,in=124] (cAE.120);
\draw[arr] (cAC) -- (R06590);
\draw[arr] (cAD) -- (R06590);
\draw[arr] (cAE) -- (R01015);
\draw[arr] (cAE.-76) to[out=-82,in=91] (R01070.north);
\draw[arr] (R01015) -- (cAM);
\draw[arr] (cAM) -- (R01070);
\draw[arr] (R06590) -- (cAL);
\draw[arr] (R06590.213) .. controls +(225:45) and +(90:60) .. (90,-1680) -- (cAX.north);
\draw[arr] (R01070) -- (cAQ);
\draw[arr] (cAP.-51) to[out=-45,in=151] (R04731.157);
\draw[arr] (cAR) -- (R04731);
\draw[arr] (cAQ) -- (R02073);
\draw[arr] (R04026) -- (cAR);
\draw[arr] (R04026) -- (cAT);
\draw[arr] (cAS) -- (R02073);
\draw[arr] (cAN) -- (R04026);
\draw[arr] (R02729) -- (cAN);
\draw[arr] (R02729) -- (cAO);
\draw[arr] (cAF.-63) to[out=-63,in=132] (R02729.142);
\draw[arr] (cAG) -- (R02729);
\draw[arr] (R07226.180) .. controls (900,-1150) and (720,-1150) .. (cAF.70);
\draw[arr] (R07226) -- (cAH);
\draw[arr] (R07226.-36) to[out=-41,in=115] (cAI.117);
\draw[arr] (cV.-52) to[out=-50,in=159] (R07226.161);
\draw[arr] (cW) -- (R07226);
\draw[arr] (cX) -- (R07226);
\draw[arr] (cY) -- (R07226);
\draw[arr] (R04731) -- (cAV);
\draw[arr] (R04731) -- (cAW);
\draw[arr] (cAU) -- (R04732);
\draw[arr] (cAV) -- (R04732);
\draw[arr] (R04732) -- (cAZ);
\draw[arr] (cAY) -- (R04857);
\draw[arr] (cAZ) -- (R04857);
\draw[arr] (cBA) -- (R04857);
\draw[arr] (R04857) -- (cBB);
\draw[arr] (R04857) -- (cBC);
\draw[arr] (cBB) -- (R02141);
\draw[arr] (R02141.190) to[out=195,in=54] (cBD.52);
\draw[arr] (R02141.2) to[out=-12,in=125] (cBG.112);
\draw[arr] (cBD.-53) to[out=-43,in=156] (R01768.161);
\draw[arr] (cBE) -- (R01768);
\draw[arr] (cBF) -- (R01768);
\draw[arr] (R01768.198) to[out=200,in=58] (cBH.57);
\draw[arr] (R01768) -- (cBJ);
\draw[arr] (R01768.-12) to[out=-11,in=121] (cBK.114);
\draw[arr] (cBH) -- (R01244);
\draw[arr] (cBI) -- (R01244);
\draw[arr] (R01244) -- (cBL);
\draw[arr] (R01244.-7) to[out=-8,in=125] (cBN.124);
\draw[arr] (cBL) -- (R00182);
\draw[arr] (cBL.-36) to[out=-28,in=155] (R00190.156);
\draw[arr] (cBM) -- (R00190);
\draw[arr] (cAX.south) -- (91,-3450) .. controls +(-90:120) and +(142:70) .. (R00182.150);
\draw[arr] (R00182) -- (cBO);
\draw[arr] (R00182) -- (cBQ);
\draw[arr] (R00190) -- (cBQ);
\draw[arr] (R00190) -- (cBR);
\draw[arr] (R02073.-65) .. controls +(-74:80) and +(90:60) .. (806,-2280) -- (805,-3600) to[out=-90,in=95] (cBR.82);
\draw[arr] (eA.-53) to[out=-52,in=153] (R03876.157);
\draw[arr] (cBQ) -- (R03876);
\draw[arr] (cBR) -- (R03876);
\draw[arr] (R03876.211) to[out=209,in=71] (eB.56);
\draw[arr] (R03876) -- (cBT);
\draw[arr] (R03876) -- (cBU);
\end{tikzpicture}
\end{document}
